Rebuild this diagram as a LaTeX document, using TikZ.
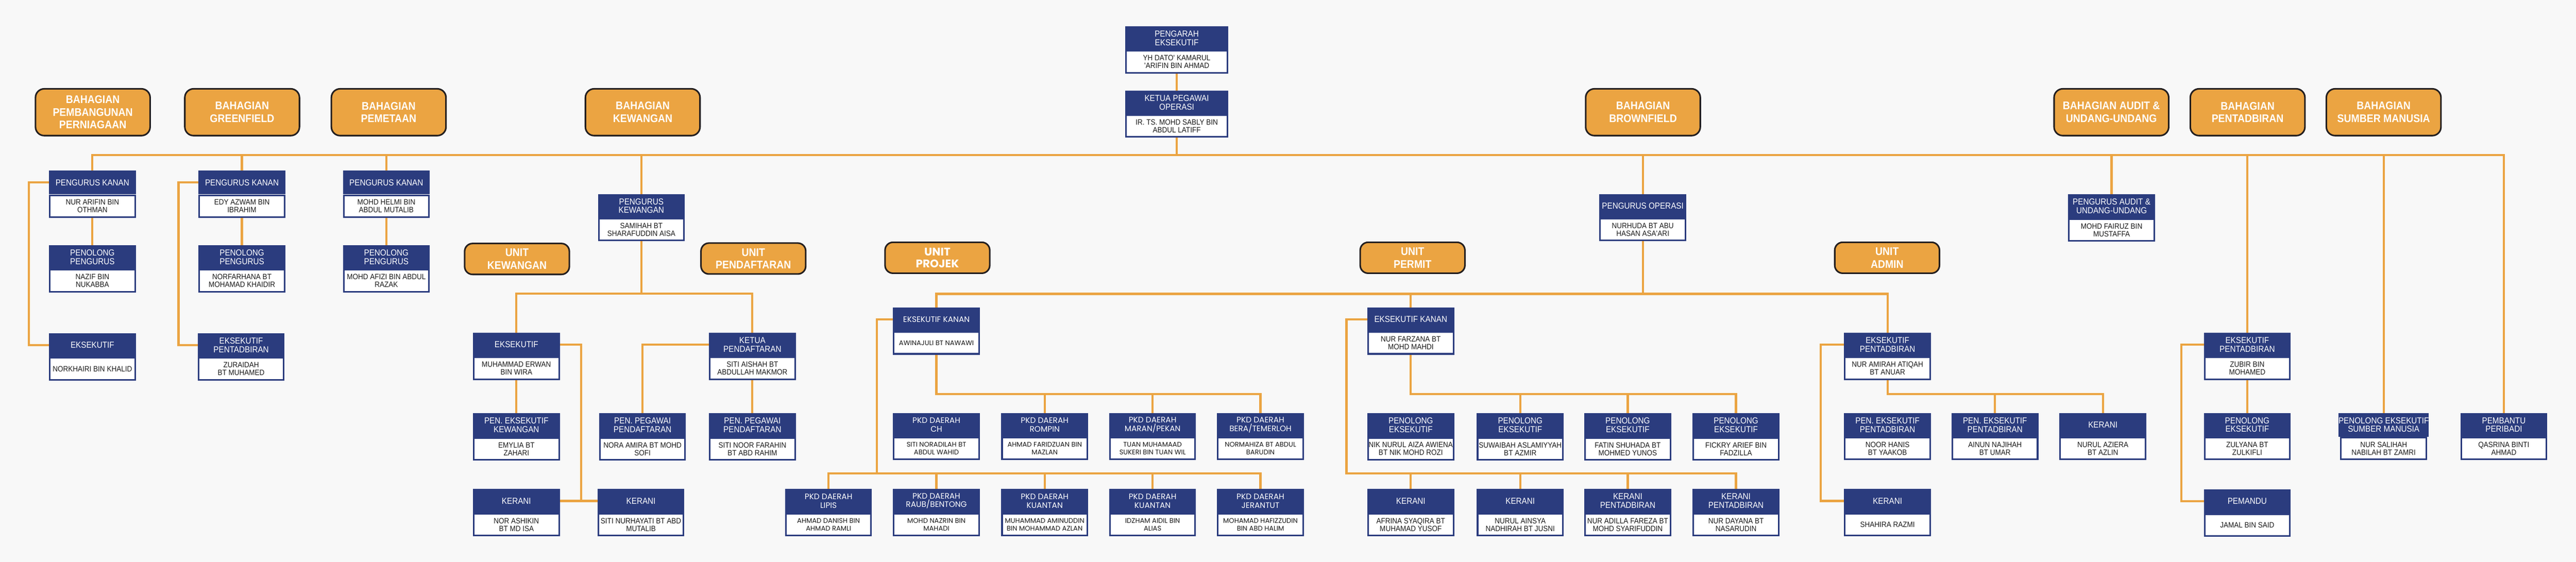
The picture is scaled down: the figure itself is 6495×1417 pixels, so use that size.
\documentclass[tikz,border=0pt]{standalone}
\usepackage{fontspec}
\setmainfont{Liberation Sans}[FakeStretch=0.9]
\newfontfamily\pjfont{Poppins}
\definecolor{navy}{RGB}{43,60,126}
\definecolor{orng}{RGB}{235,164,66}
\definecolor{bgc}{RGB}{248,248,248}
\definecolor{dkb}{RGB}{35,31,32}
\definecolor{ink}{RGB}{25,25,25}
\newcommand{\hdrfnt}{\fontsize{22}{22}\selectfont}
\newcommand{\nmfnt}{\fontsize{19.5}{19.5}\selectfont}
\newcommand{\dptfnt}{\fontsize{28}{32}\selectfont\bfseries}
\newcommand{\pjh}{\pjfont\fontsize{20}{22}\selectfont}
\newcommand{\pjn}{\pjfont\fontsize{17}{19}\selectfont}
\newcommand{\pbox}[6][219]{%
  \node[hdr, minimum width=#1pt] (#2) at (#3,#4) {#5};
  \node[nm, minimum width=#1pt-4pt] (#2n) at (#2.south) {#6};}
\pgfdeclarelayer{bg}
\pgfsetlayers{bg,main}
\tikzset{
  hdr/.style={rectangle, fill=navy, text=white, anchor=north, align=center,
    inner sep=0pt, minimum height=60pt, font=\hdrfnt},
  nm/.style={rectangle, fill=white, draw=navy, line width=4pt, text=ink,
    anchor=north, align=center, inner sep=0pt, minimum height=55pt, font=\nmfnt},
  dept/.style={rectangle, rounded corners=22pt, fill=orng, draw=dkb, line width=4pt,
    text=white, align=center, inner sep=0pt, minimum width=289pt,
    minimum height=118pt, font=\dptfnt},
  unitbox/.style={dept, rounded corners=20pt, minimum width=264pt, minimum height=78pt},
  conn/.style={draw=orng, line width=5.5pt, line cap=rect, line join=miter},
}
\begin{document}
\begin{tikzpicture}[x=1pt,y=-1pt]
\useasboundingbox (0,0) rectangle (6495,1417);

% ---------- top ----------
\pbox[260]{pe}{2967}{66}{PENGARAH\\EKSEKUTIF}{YH DATO\textquotesingle{} KAMARUL\\\textquotesingle ARIFIN BIN AHMAD}
\pbox[260]{kpo}{2967}{228}{KETUA PEGAWAI\\OPERASI}{IR. TS. MOHD SABLY BIN\\ABDUL LATIFF}

% ---------- departments ----------
\node[dept] (d1) at (234,283) {BAHAGIAN\\PEMBANGUNAN\\PERNIAGAAN};
\node[dept] (d2) at (610.5,283) {BAHAGIAN\\GREENFIELD};
\node[dept] (d3) at (980,283) {BAHAGIAN\\PEMETAAN};
\node[dept] (d4) at (1620.5,283) {BAHAGIAN\\KEWANGAN};
\node[dept] (d5) at (4142.5,283) {BAHAGIAN\\BROWNFIELD};
\node[dept] (d6) at (5323.5,283) {BAHAGIAN AUDIT \&\\UNDANG-UNDANG};
\node[dept] (d7) at (5667,283) {BAHAGIAN\\PENTADBIRAN};
\node[dept] (d8) at (6010,283) {BAHAGIAN\\SUMBER MANUSIA};

% ---------- units ----------
\node[unitbox] (uk) at (1303.5,653) {UNIT\\KEWANGAN};
\node[unitbox] (up) at (1899.5,652) {UNIT\\PENDAFTARAN};
\node[unitbox, font=\pjfont\fontsize{28}{30}\selectfont\bfseries] (uproj) at (2363.5,650) {UNIT\\PROJEK};
\node[unitbox] (uperm) at (3561.5,650) {UNIT\\PERMIT};
\node[unitbox] (uadm) at (4758,650) {UNIT\\ADMIN};

% ---------- Pembangunan / Greenfield / Pemetaan ----------
\pbox{a1}{233}{430}{PENGURUS KANAN}{NUR ARIFIN BIN\\OTHMAN}
\pbox{a2}{233}{618}{PENOLONG\\PENGURUS}{NAZIF BIN\\NUKABBA}
\pbox{a3}{233}{840}{EKSEKUTIF}{NORKHAIRI BIN KHALID}
\pbox{b1}{610}{430}{PENGURUS KANAN}{EDY AZWAM BIN\\IBRAHIM}
\pbox{b2}{610}{618}{PENOLONG\\PENGURUS}{NORFARHANA BT\\MOHAMAD KHAIDIR}
\pbox{b3}{608}{840}{EKSEKUTIF\\PENTADBIRAN}{ZURAIDAH\\BT MUHAMED}
\pbox{c1}{974}{430}{PENGURUS KANAN}{MOHD HELMI BIN\\ABDUL MUTALIB}
\pbox{c2}{974}{618}{PENOLONG\\PENGURUS}{MOHD AFIZI BIN ABDUL\\RAZAK}

% ---------- Kewangan ----------
\pbox{k0}{1617}{489}{PENGURUS\\KEWANGAN}{SAMIHAH BT\\SHARAFUDDIN AISA}
\pbox{k1}{1302}{839}{EKSEKUTIF}{MUHAMMAD ERWAN\\BIN WIRA}
\pbox{k2}{1302}{1042}{PEN. EKSEKUTIF\\KEWANGAN}{EMYLIA BT\\ZAHARI}
\pbox{k3}{1302}{1233}{KERANI}{NOR ASHIKIN\\BT MD ISA}
\pbox{k4}{1616}{1233}{KERANI}{SITI NURHAYATI BT ABD\\MUTALIB}
\pbox{k5}{1897}{839}{KETUA\\PENDAFTARAN}{SITI AISHAH BT\\ABDULLAH MAKMOR}
\pbox{k6}{1620}{1042}{PEN. PEGAWAI\\PENDAFTARAN}{NORA AMIRA BT MOHD\\SOFI}
\pbox{k7}{1897}{1042}{PEN. PEGAWAI\\PENDAFTARAN}{SITI NOOR FARAHIN\\BT ABD RAHIM}

% ---------- Projek ----------
\begin{scope}[hdr/.append style={font=\pjh}, nm/.append style={font=\pjn}]
\pbox{p0}{2361}{775}{EKSEKUTIF KANAN}{AWINAJULI BT NAWAWI}
\pbox{p1}{2361}{1041}{PKD DAERAH\\CH}{SITI NORADILAH BT\\ABDUL WAHID}
\pbox{p2}{2634}{1041}{PKD DAERAH\\ROMPIN}{AHMAD FARIDZUAN BIN\\MAZLAN}
\pbox{p3}{2906}{1041}{PKD DAERAH\\MARAN/PEKAN}{TUAN MUHAMAAD\\SUKERI BIN TUAN WIL}
\pbox{p4}{3178}{1041}{PKD DAERAH\\BERA/TEMERLOH}{NORMAHIZA BT ABDUL\\BARUDIN}
\pbox{q1}{2089}{1233}{PKD DAERAH\\LIPIS}{AHMAD DANISH BIN\\AHMAD RAMLI}
\pbox{q2}{2361}{1233}{PKD DAERAH\\RAUB/BENTONG}{MOHD NAZRIN BIN\\MAHADI}
\pbox{q3}{2634}{1233}{PKD DAERAH\\KUANTAN}{MUHAMMAD AMINUDDIN\\BIN MOHAMMAD AZLAN}
\pbox{q4}{2906}{1233}{PKD DAERAH\\KUANTAN}{IDZHAM AIDIL BIN\\ALIAS}
\pbox{q5}{3178}{1233}{PKD DAERAH\\JERANTUT}{MOHAMAD HAFIZZUDIN\\BIN ABD HALIM}
\end{scope}

% ---------- Brownfield / Permit ----------
\pbox{o0}{4142}{489}{PENGURUS OPERASI}{NURHUDA BT ABU\\HASAN ASA\textquotesingle ARI}
\pbox{r0}{3557}{775}{EKSEKUTIF KANAN}{NUR FARZANA BT\\MOHD MAHDI}
\pbox{r1}{3557}{1042}{PENOLONG\\EKSEKUTIF}{NIK NURUL AIZA AWIENA\\BT NIK MOHD ROZI}
\pbox{r2}{3833}{1042}{PENOLONG\\EKSEKUTIF}{SUWAIBAH ASLAMIYYAH\\BT AZMIR}
\pbox{r3}{4104}{1042}{PENOLONG\\EKSEKUTIF}{FATIN SHUHADA BT\\MOHMED YUNOS}
\pbox{r4}{4377}{1042}{PENOLONG\\EKSEKUTIF}{FICKRY ARIEF BIN\\FADZILLA}
\pbox{s1}{3557}{1233}{KERANI}{AFRINA SYAQIRA BT\\MUHAMAD YUSOF}
\pbox{s2}{3833}{1233}{KERANI}{NURUL AINSYA\\NADHIRAH BT JUSNI}
\pbox{s3}{4104}{1233}{KERANI\\PENTADBIRAN}{NUR ADILLA FAREZA BT\\MOHD SYARIFUDDIN}
\pbox{s4}{4377}{1233}{KERANI\\PENTADBIRAN}{NUR DAYANA BT\\NASARUDIN}

% ---------- Admin ----------
\pbox{e0}{4759}{839}{EKSEKUTIF\\PENTADBIRAN}{NUR AMIRAH ATIQAH\\BT ANUAR}
\pbox{e1}{4759}{1041}{PEN. EKSEKUTIF\\PENTADBIRAN}{NOOR HANIS\\BT YAAKOB}
\pbox{e2}{5030}{1041}{PEN. EKSEKUTIF\\PENTADBIRAN}{AINUN NAJIHAH\\BT UMAR}
\pbox{e3}{5302}{1041}{KERANI}{NURUL AZIERA\\BT AZLIN}
\pbox{e4}{4759}{1233}{KERANI}{SHAHIRA RAZMI}

% ---------- Audit / Pentadbiran / SM ----------
\pbox{f0}{5324}{490}{PENGURUS AUDIT \&\\UNDANG-UNDANG}{MOHD FAIRUZ BIN\\MUSTAFFA}
\pbox{g0}{5666}{839}{EKSEKUTIF\\PENTADBIRAN}{ZUBIR BIN\\MOHAMED}
\pbox{g1}{5666}{1041}{PENOLONG\\EKSEKUTIF}{ZULYANA BT\\ZULKIFLI}
\pbox{g2}{5666}{1234}{PEMANDU}{JAMAL BIN SAID}
\pbox{h0}{6010}{1041}{PENOLONG EKSEKUTIF\\SUMBER MANUSIA}{NUR SALIHAH\\NABILAH BT ZAMRI}
\pbox{h1}{6313}{1041}{PEMBANTU\\PERIBADI}{QASRINA BINTI\\AHMAD}

% ---------- connectors ----------
\coordinate (busM) at (0,391);
\coordinate (busK) at (0,740);
\coordinate (busB) at (0,741);
\coordinate (busP1) at (0,994);
\coordinate (busP2) at (0,1194);
\coordinate (brA) at (73,0);
\coordinate (brB) at (450,0);
\coordinate (brK) at (1465,0);
\coordinate (brP) at (2211,0);
\coordinate (brR) at (3395,0);
\coordinate (brE) at (4591,0);
\coordinate (brG) at (5500,0);

\begin{pgfonlayer}{bg}
\fill[bgc] (0,0) rectangle (6495,1417);
% top
\draw[conn] (pen.south) -- (kpo.north);
\draw[conn] (kpon.south) -- (kpon.south |- busM);
\draw[conn] (a1.north |- busM) -- (h1.north |- busM);
\foreach \n in {a1,b1,c1,k0,o0,f0,g0,h0,h1}
  \draw[conn] (\n.north |- busM) -- (\n.north);
% left
\draw[conn] (a1n.south) -- (a2.north);
\draw[conn] (a1.west) -| (brA |- a3.west) -- (a3.west);
\draw[conn] (b1n.south) -- (b2.north);
\draw[conn] (b1.west) -| (brB |- b3.west) -- (b3.west);
\draw[conn] (c1n.south) -- (c2.north);
% kewangan
\draw[conn] (k0n.south) -- (k0n.south |- busK);
\draw[conn] (k1.north) |- (k5.north |- busK) -- (k5.north);
\draw[conn] (k1n.south) -- (k2.north);
\draw[conn] (k1.east) -| (brK |- k3.east);
\draw[conn] (k3.east) -- (k4.west);
\draw[conn] (k5.west) -| (k6.north);
\draw[conn] (k5n.south) -- (k7.north);
% brownfield bus
\draw[conn] (o0n.south) -- (o0n.south |- busB);
\draw[conn] (p0.north) |- (e0.north |- busB) -- (e0.north);
\draw[conn] (r0.north |- busB) -- (r0.north);
% projek
\draw[conn] (p0n.south) |- (p4.north |- busP1) -- (p4.north);
\foreach \n in {p2,p3} \draw[conn] (\n.north |- busP1) -- (\n.north);
\draw[conn] (p0.west) -| (brP |- busP2);
\draw[conn] (q1.north) |- (q5.north |- busP2) -- (q5.north);
\foreach \n in {q2,q3,q4} \draw[conn] (\n.north |- busP2) -- (\n.north);
% permit
\draw[conn] (r0n.south) |- (r4.north |- busP1) -- (r4.north);
\foreach \n in {r2,r3} \draw[conn] (\n.north |- busP1) -- (\n.north);
\draw[conn] (r0.west) -| (brR |- busP2) -| (s4.north);
\foreach \n in {s1,s2,s3} \draw[conn] (\n.north |- busP2) -- (\n.north);
% admin
\draw[conn] (e0n.south) |- (e3.north |- busP1) -- (e3.north);
\draw[conn] (e2.north |- busP1) -- (e2.north);
\draw[conn] (e0.west) -| (brE |- e4.west) -- (e4.west);
% pentadbiran
\draw[conn] (g0n.south) -- (g1.north);
\draw[conn] (g0.west) -| (brG |- g2.west) -- (g2.west);
\end{pgfonlayer}
\end{tikzpicture}
\end{document}
